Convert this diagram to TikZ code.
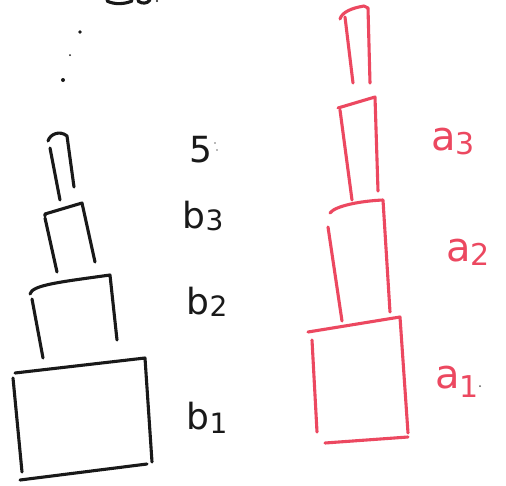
\documentclass[tikz,border=0pt]{standalone}
\usepackage{fontspec}
\setmainfont{DejaVu Sans}
\definecolor{penred}{RGB}{236,72,96}
\definecolor{penblack}{RGB}{25,25,25}
\tikzset{
  blk/.style={draw=penblack, line width=3.1pt, line cap=round, line join=round},
  rd/.style={draw=penred, line width=3.1pt, line cap=round, line join=round},
  blab/.style={text=penblack, font=\fontsize{36}{36}\selectfont, inner sep=0pt},
  rlab/.style={text=penred, font=\fontsize{40}{40}\selectfont, inner sep=0pt}
}
\begin{document}
\begin{tikzpicture}[x=1pt,y=-1pt]
\useasboundingbox (0,0) rectangle (506,485);
\fill[white] (0,0) rectangle (506,485);
% top fragment of cut-off text
\draw[blk] (107,1) .. controls (115,5) and (125,4) .. (132,1);
\draw[blk] (138,1) .. controls (142,4) and (147,4) .. (150,0);
\fill[penblack] (157,1) circle (1.2);
% dots
\fill[penblack] (80,32) circle (1.8);
\fill[penblack] (70,55) circle (1.0);
\fill[penblack] (63,80) circle (2.0);
% ---------- black stack ----------
\draw[blk] (48,141) .. controls (50,134) and (60,130) .. (67,136) -- (74,187);
\draw[blk] (50,148) -- (60,200);
\draw[blk] (45,216) -- (45,214) -- (82,203) -- (95,262);
\draw[blk] (45,218) -- (57,272);
\draw[blk] (30,294) .. controls (32,285) and (60,282) .. (110,275) -- (117,340);
\draw[blk] (32,299) -- (43,358);
\draw[blk] (15,373) -- (145,358) -- (152,462);
\draw[blk] (13,378) -- (22,472);
\draw[blk] (20,480) -- (147,464);
% black labels
\node[blab] (b4) at (201,150) {5};
\fill[penblack!60] (215,143) circle (0.9);
\fill[penblack!60] (217,150) circle (0.9);
\node[blab] (b3) at (203,216) {b\raisebox{-2pt}{\fontsize{28}{28}\selectfont 3}};
\node[blab] (b2) at (207,302) {b\raisebox{-2pt}{\fontsize{28}{28}\selectfont 2}};
\node[blab] (b1) at (207,418) {b\raisebox{-4pt}{\fontsize{28}{28}\selectfont 1}};
% ---------- red stack ----------
\draw[rd] (340,19) .. controls (342,12) and (352,8) .. (364,6) -- (368,8) -- (370,83);
\draw[rd] (345,17) -- (353,83);
\draw[rd] (338,108) -- (375,97) -- (378,191);
\draw[rd] (340,110) -- (352,200);
\draw[rd] (330,213) .. controls (335,206) and (360,201) .. (383,200) -- (390,312);
\draw[rd] (328,227) -- (342,321);
\draw[rd] (308,332) -- (400,317) -- (408,433);
\draw[rd] (312,340) -- (317,432);
\draw[rd] (325,443) -- (408,437);
% red labels
\node[rlab] (a3) at (453,142) {a\raisebox{-4pt}{\fontsize{30}{30}\selectfont 3}};
\node[rlab] (a2) at (468,252) {a\raisebox{-4pt}{\fontsize{30}{30}\selectfont 2}};
\node[rlab] (a1) at (457,382) {a\raisebox{-9pt}{\fontsize{30}{30}\selectfont 1}};
\fill[penblack!70] (480,386) circle (1.0);
\end{tikzpicture}
\end{document}
